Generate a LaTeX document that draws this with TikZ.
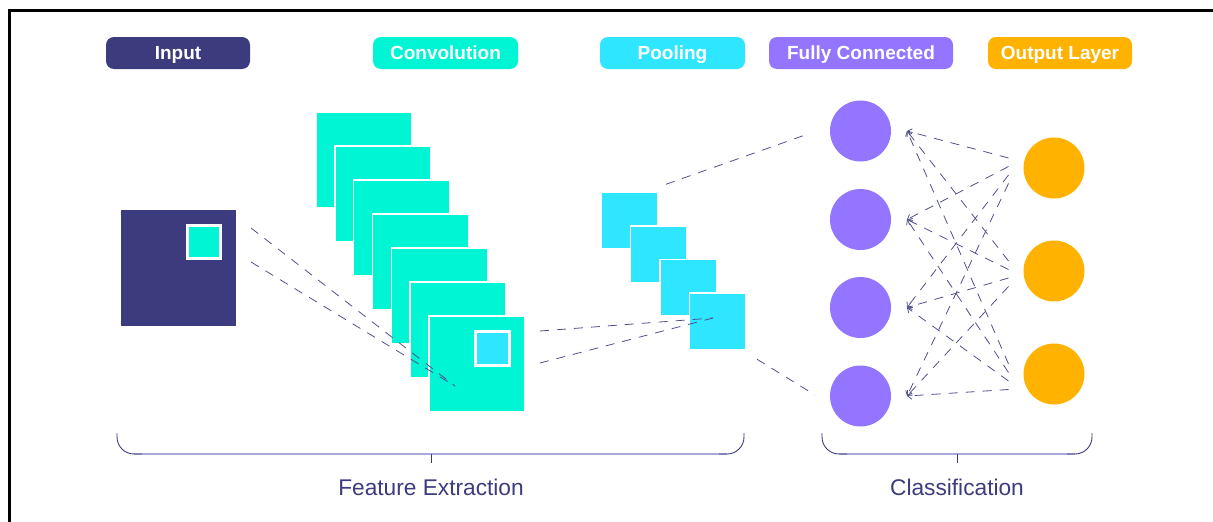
\documentclass[tikz,border=0pt]{standalone}
\usepackage{fontspec}
\setmainfont{Liberation Sans}
\usetikzlibrary{arrows.meta,calc}

\definecolor{cnnNavy}{RGB}{60,59,126}
\definecolor{cnnConv}{RGB}{0,245,212}
\definecolor{cnnPool}{RGB}{46,230,255}
\definecolor{cnnFc}{RGB}{147,117,255}
\definecolor{cnnOut}{RGB}{255,179,0}
\definecolor{linkCol}{RGB}{80,80,140}
\definecolor{braceLight}{RGB}{170,170,215}

\begin{document}
\begin{tikzpicture}[x=1pt,y=-1pt,
  tag/.style={rectangle, rounded corners=8pt, minimum height=32pt, inner sep=0pt,
    text=white, text height=13.6pt, text depth=0pt,
    font=\fontsize{19}{19}\selectfont\bfseries},
  fmap/.style={rectangle, inner sep=0pt, outer sep=0pt, draw=white, line width=1.5pt},
  patch/.style={rectangle, inner sep=0pt, outer sep=0pt, draw=white, line width=3pt},
  neuron/.style={circle, inner sep=0pt, outer sep=0pt, minimum size=61pt},
  link/.style={draw=linkCol, line width=0.8pt, dash pattern=on 9pt off 8pt},
  brace/.style={draw=cnnNavy, line width=0.9pt, rounded corners=17pt},
  braceline/.style={draw=braceLight, line width=1.4pt},
  caption/.style={text=cnnNavy, anchor=base, font=\fontsize{22.7}{24}\selectfont},
]
\useasboundingbox (0,0) rectangle (1213,522);

% frame lines along the top and left edges
\draw[line width=2.4pt, black] (9.5,522) -- (9.5,10.5) -- (1213,10.5);

% stage labels
\node[tag, fill=cnnNavy, minimum width=144pt] (tagIn)   at (178,53)   {Input};
\node[tag, fill=cnnConv, minimum width=145pt] (tagConv) at (445.5,53) {Convolution};
\node[tag, fill=cnnPool, minimum width=145pt] (tagPool) at (672.5,53) {Pooling};
\node[tag, fill=cnnFc,   minimum width=184pt] (tagFc)   at (861,53)   {Fully Connected};
\node[tag, fill=cnnOut,  minimum width=144pt] (tagOut)  at (1060,53)  {Output Layer};

% input image with its receptive field
\node[rectangle, fill=cnnNavy, inner sep=0pt, outer sep=0pt,
      minimum width=115pt, minimum height=116pt] (input) at (178.5,268) {};
\node[patch, fill=cnnConv, minimum size=33pt] (inPatch) at (204,242) {};

% stack of convolution feature maps
\foreach \k in {0,...,6}
  \node[fmap, fill=cnnConv, minimum size=96pt] (conv\k) at ({364+18.83*\k},{160+34*\k}) {};
\node[patch, fill=cnnPool, minimum size=34pt] (convPatch) at (492.5,348) {};

% stack of pooled maps
\foreach \k in {0,...,3}
  \node[fmap, fill=cnnPool, minimum size=56.5pt] (pool\k) at ({629.3+29.5*\k},{220.5+33.5*\k}) {};

% fully connected and output neurons
\foreach \i/\y in {1/131,2/219.5,3/307.5,4/396}
  \node[neuron, fill=cnnFc] (fc\i) at (860.5,\y) {};
\foreach \j/\y in {1/168,2/271,3/374}
  \node[neuron, fill=cnnOut] (out\j) at (1054,\y) {};

% receptive field projections
\coordinate (convHit) at (455,386);
\draw[link] ($(inPatch.north east)+(30.5,2.5)$) -- (convHit);
\draw[link] ($(inPatch.south east)+(30.5,3.5)$) -- (convHit);

\coordinate (poolHit) at (713,318);
\draw[link] ($(convPatch.north east)+(30.5,0)$) -- (poolHit);
\draw[link] ($(convPatch.south east)+(30.5,-2)$) -- (poolHit);

% pooled maps feeding the dense layer
\draw[link] ($(pool0.north east)+(8.5,-8)$) -- ($(fc1.west)+(-22,3)$);
\draw[link] ($(pool3.south east)+(11,10)$) -- ($(fc4.west)+(-15,-1)$);

% dense connections between output and fully connected neurons
\foreach \i in {1,...,4}
  \foreach \j in {1,...,3}
    \draw[link, -{Straight Barb[length=4pt,width=7pt,line width=0.8pt]}]
      ($(out\j.west)+(-15,{-10+8.5*(\i-1)})$) -- ($(fc\i.east)+(16,0)$);

% grouping braces
\draw[braceline] (134,454) -- (727,454);
\draw[brace] (117,433) |- (142,454);
\draw[brace] (719,454) -| (744,433);
\draw[brace, rounded corners=0pt] (431,454) -- (431,463);
\node[caption] (capFe) at (431,495) {Feature Extraction};

\draw[braceline] (839,454) -- (1075,454);
\draw[brace] (822,433) |- (847,454);
\draw[brace] (1067,454) -| (1092,433);
\draw[brace, rounded corners=0pt] (957,454) -- (957,463);
\node[caption] (capCl) at (957,495) {Classification};
\end{tikzpicture}
\end{document}
